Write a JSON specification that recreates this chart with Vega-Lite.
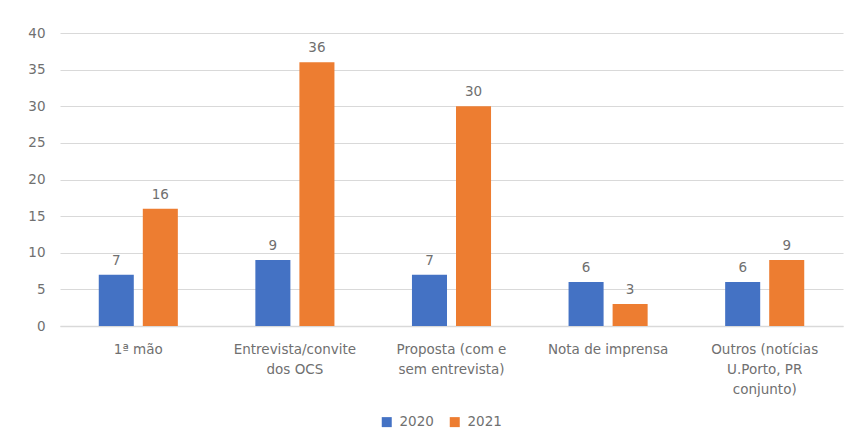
{
  "$schema": "https://vega.github.io/schema/vega-lite/v6.json",
  "width": 783,
  "height": 293,
  "autosize": "none",
  "padding": {"left": 60, "top": 33, "right": 10, "bottom": 118},
  "background": "white",
  "config": {
    "font": "DejaVu Sans",
    "view": {"stroke": null},
    "axis": {"labelColor": "#707070", "labelFontSize": 13.5, "labelFont": "DejaVu Sans"},
    "legend": {"labelColor": "#707070", "labelFontSize": 13.5, "labelFont": "DejaVu Sans"}
  },
  "data": {
    "values": [
      {"cat": "1ª mão", "ano": "2020", "v": 7},
      {"cat": "1ª mão", "ano": "2021", "v": 16},
      {"cat": "Entrevista/convite dos OCS", "ano": "2020", "v": 9},
      {"cat": "Entrevista/convite dos OCS", "ano": "2021", "v": 36},
      {"cat": "Proposta (com e sem entrevista)", "ano": "2020", "v": 7},
      {"cat": "Proposta (com e sem entrevista)", "ano": "2021", "v": 30},
      {"cat": "Nota de imprensa", "ano": "2020", "v": 6},
      {"cat": "Nota de imprensa", "ano": "2021", "v": 3},
      {"cat": "Outros (notícias U.Porto, PR conjunto)", "ano": "2020", "v": 6},
      {"cat": "Outros (notícias U.Porto, PR conjunto)", "ano": "2021", "v": 9}
    ]
  },
  "encoding": {
    "x": {
      "field": "cat",
      "type": "nominal",
      "sort": null,
      "title": null,
      "scale": {"paddingInner": 0.495, "paddingOuter": 0.2475},
      "axis": {
        "labelAngle": 0,
        "ticks": false,
        "domain": true,
        "domainColor": "#d9d9d9",
        "domainWidth": 1.5,
        "labelPadding": 16,
        "labelLineHeight": 20,
        "labelLimit": 200,
        "labelExpr": "datum.label == 'Entrevista/convite dos OCS' ? ['Entrevista/convite', 'dos OCS'] : datum.label == 'Proposta (com e sem entrevista)' ? ['Proposta (com e', 'sem entrevista)'] : datum.label == 'Outros (notícias U.Porto, PR conjunto)' ? ['Outros (notícias', 'U.Porto, PR', 'conjunto)'] : datum.label"
      }
    },
    "xOffset": {"field": "ano", "type": "nominal", "scale": {"paddingInner": 0.2045, "paddingOuter": 0}},
    "y": {
      "field": "v",
      "type": "quantitative",
      "title": null,
      "scale": {"domain": [0, 40]},
      "axis": {
        "values": [0, 5, 10, 15, 20, 25, 30, 35, 40],
        "domain": false,
        "ticks": false,
        "gridColor": "#d9d9d9",
        "gridWidth": 1,
        "labelPadding": 15
      }
    }
  },
  "layer": [
    {
      "mark": {"type": "bar"},
      "encoding": {
        "color": {
          "field": "ano",
          "type": "nominal",
          "title": null,
          "scale": {"domain": ["2020", "2021"], "range": ["#4472c4", "#ed7d31"]},
          "legend": {
            "orient": "none",
            "direction": "horizontal",
            "legendX": 320,
            "legendY": 382,
            "symbolType": "square",
            "symbolSize": 100,
            "columnPadding": 14,
            "labelOffset": 6
          }
        }
      }
    },
    {
      "mark": {"type": "text", "baseline": "bottom", "dy": -7, "fontSize": 13.5, "color": "#707070"},
      "encoding": {"text": {"field": "v", "type": "quantitative"}}
    }
  ]
}
